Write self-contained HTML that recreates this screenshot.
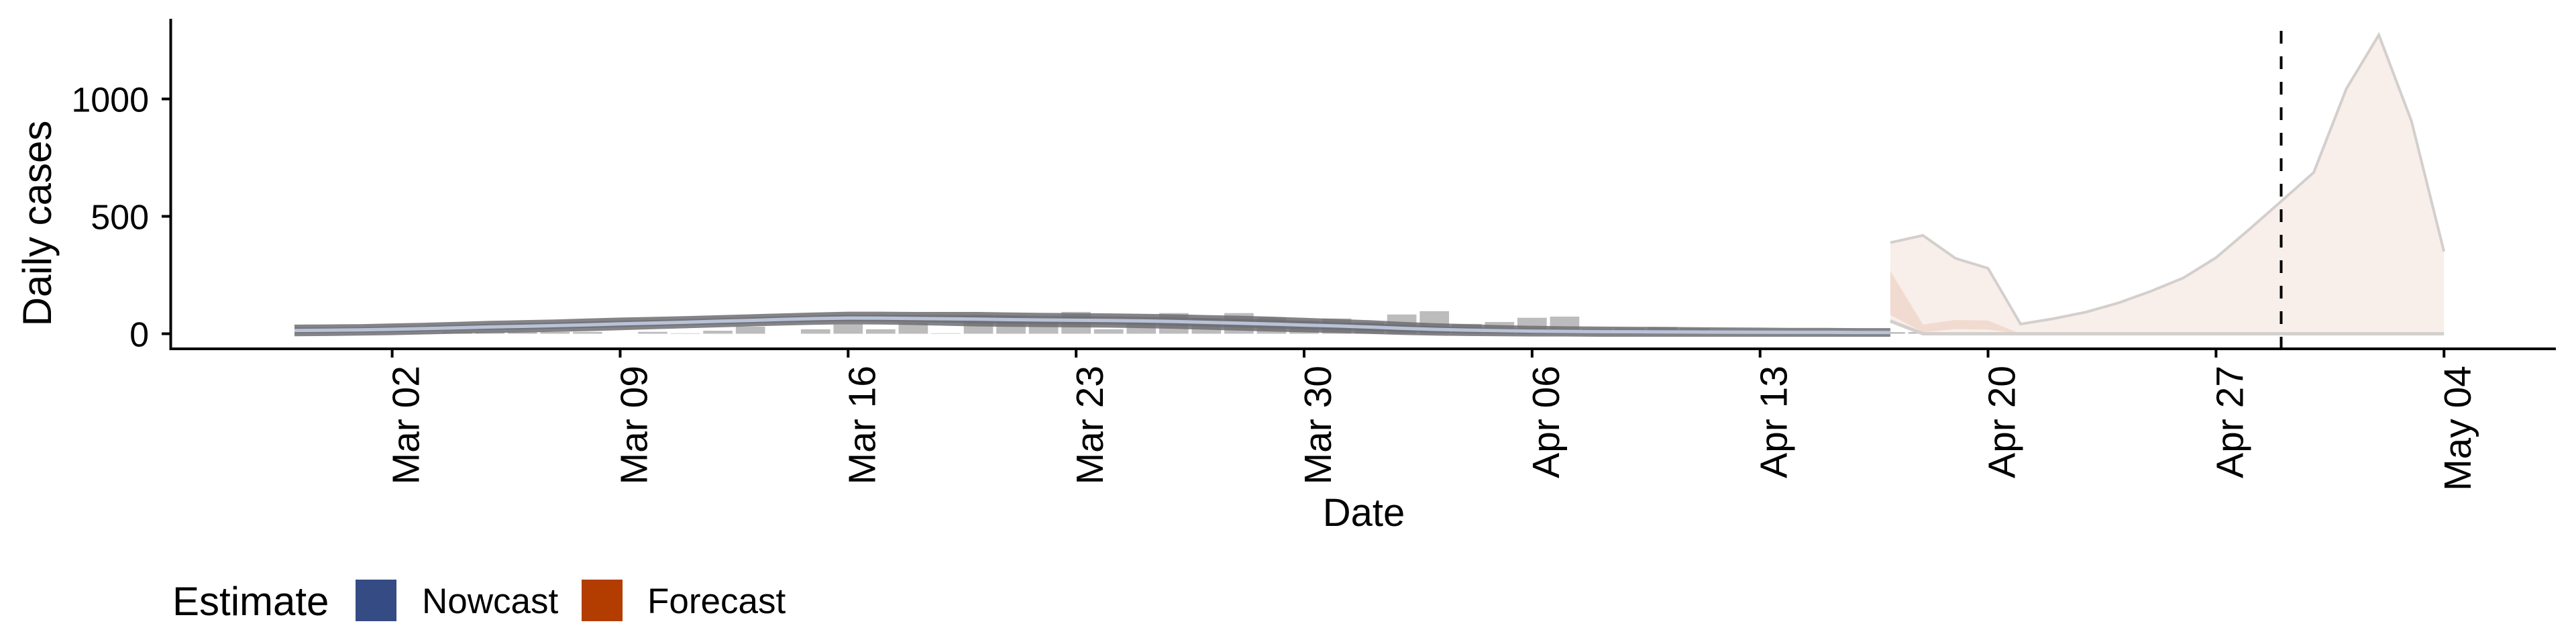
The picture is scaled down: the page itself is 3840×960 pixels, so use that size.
<!DOCTYPE html>
<html><head><meta charset="utf-8"><style>
html,body{margin:0;padding:0;background:#fff;}
svg{display:block;font-family:"Liberation Sans",Arial,sans-serif;}
</style></head><body>
<svg id="chart" width="3840" height="960" viewBox="0 0 3840 960" xmlns="http://www.w3.org/2000/svg">
<rect width="3840" height="960" fill="#fff"/>
<g id="plot"></g>
<text transform="translate(76,333) rotate(-90)" text-anchor="middle" font-size="60">Daily cases</text>
<text x="2033" y="784" text-anchor="middle" font-size="58">Date</text>
<g>
<text x="257" y="917" font-size="60">Estimate</text>
<rect x="530" y="864" width="61" height="62" fill="#344b84"/>
<text x="629" y="914" font-size="53">Nowcast</text>
<rect x="867" y="864" width="61" height="62" fill="#b33c00"/>
<text x="965" y="914" font-size="53">Forecast</text>
</g>
</svg>
<script>
// Day 0 = Mar 02
const reportedDays = [-3,-2,-1,0,1,2,3,4,5,6,7,8,9,10,11,12,13,14,15,16,17,18,19,20,21,22,23,24,25,26,27,28,29,30,31,32,33,34,35,36,37,38,39,40,41,42,43,44,45,46,47,48,49,50,51,52,53,54,55,56,57,58,59,60,61,62,63];
const reportedCases = [0,0,0,0,2,8,8,8,8,8,0,8,2,13,30,0,19,40,19,48,2,79,77,63,93,19,60,88,65,88,70,56,65,48,82,96,42,50,68,73,21,23,29,23,8,8,7,7,7,7,7,7,7,0,4,4,4,0,0,0,0,3,0,0,0,0,0];
const nowcastDays = [-3,-2,-1,0,1,2,3,4,5,6,7,8,9,10,11,12,13,14,15,16,17,18,19,20,21,22,23,24,25,26,27,28,29,30,31,32,33,34,35,36,37,38,39,40,41,42,43,44,45,46];
const nowcastUpper = [26,27,28,31,34,38,42,45,48,52,56,59,62,66,70,74,78,81,81,80,80,80,78,76,75,74,72,70,67,64,60,55,50,45,38,32,28,24,21,19,18,17,16,15,14,13,12,12,11,11];
const nowcastLower = [2,3,5,7,10,13,16,18,21,24,28,32,36,40,44,48,51,53,52,50,47,44,42,41,40,39,37,34,30,26,22,19,16,12,8,5,3,2,1,1,0,0,0,0,0,0,0,0,0,0];
const forecastDays = [46,47,48,49,50,51,52,53,54,55,56,57,58,59,60,61,62,63];
const forecastUpper = [388,419,321,279,41,64,92,131,181,238,324,442,564,687,1043,1273,906,350];
const forecastLower = [54,0,0,0,0,0,0,0,0,0,0,0,0,0,0,0,0,0];
const forecastInnerUpper = [268,39,59,56,0,0,0,0,0,0,0,0,0,0,0,0,0,0];
const forecastInnerLower = [80,6,20,18,0,0,0,0,0,0,0,0,0,0,0,0,0,0];
const yTicks = [0,500,1000];
const xTickDays = [0,7,14,21,28,35,42,49,56,63];
const xTickLabels = ["Mar 02","Mar 09","Mar 16","Mar 23","Mar 30","Apr 06","Apr 13","Apr 20","Apr 27","May 04"];
const forecastDateDay = 58;

const NS = "http://www.w3.org/2000/svg";
const plot = document.getElementById('plot');
const X0 = 584.6, DAY = 48.55, Y0 = 497.5, YS = 0.35;
function xs(d){ return X0 + d*DAY; }
function ys(v){ return Y0 - v*YS; }
function mk(tag, attrs){ const e = document.createElementNS(NS, tag); for (const k in attrs) e.setAttribute(k, attrs[k]); plot.appendChild(e); return e; }
function band(days, up, lo){
  let p = days.map((d,i)=>xs(d).toFixed(1)+','+ys(up[i]).toFixed(1));
  for (let i=days.length-1;i>=0;i--) p.push(xs(days[i]).toFixed(1)+','+ys(lo[i]).toFixed(1));
  return p.join(' ');
}
function line(days, vals){ return days.map((d,i)=>xs(d).toFixed(1)+','+ys(vals[i]).toFixed(1)).join(' '); }

reportedDays.forEach((d,i)=>{
  if (reportedCases[i] <= 0) return;
  const b = mk('rect', {x: xs(d)-DAY*0.45, y: ys(reportedCases[i]), width: DAY*0.9, height: reportedCases[i]*YS, fill:'#bcbcbc'});
  
  
});

const nb = mk('polygon', {points: band(nowcastDays, nowcastUpper, nowcastLower), fill:'rgba(95,95,100,0.7)'});


const nu = mk('polyline', {points: line(nowcastDays, nowcastUpper), fill:'none', stroke:'rgba(110,110,115,0.85)', 'stroke-width':9});


const nl = mk('polyline', {points: line(nowcastDays, nowcastLower), fill:'none', stroke:'rgba(110,110,115,0.85)', 'stroke-width':9});


const med = nowcastDays.map((d,i)=>(nowcastUpper[i]+nowcastLower[i])/2);
const nm = mk('polyline', {points: line(nowcastDays, med), fill:'none', stroke:'#b8c3d9', 'stroke-width':5});



const fb = mk('polygon', {points: band(forecastDays, forecastUpper, forecastLower), fill:'rgba(230,195,178,0.28)'});


const fi = mk('polygon', {points: band(forecastDays, forecastInnerUpper, forecastInnerLower), fill:'rgba(225,175,150,0.3)'});


const fu = mk('polyline', {points: line(forecastDays, forecastUpper), fill:'none', stroke:'#d3cfcd', 'stroke-width':4});


const fl = mk('polyline', {points: line(forecastDays, forecastLower), fill:'none', stroke:'#d3cfcd', 'stroke-width':5});



const vl = mk('line', {x1: xs(forecastDateDay), x2: xs(forecastDateDay), y1: 46, y2: 520, stroke:'#000', 'stroke-width':4, 'stroke-dasharray':'19 19'});



const ya = mk('line', {x1:254.5, x2:254.5, y1:28, y2:522, stroke:'#000', 'stroke-width':4});


const xa = mk('line', {x1:252.5, x2:3810, y1:520, y2:520, stroke:'#000', 'stroke-width':4});


yTicks.forEach(v=>{
  const t = mk('line', {x1:241, x2:254, y1:ys(v), y2:ys(v), stroke:'#000', 'stroke-width':4});
  
  
  const l = mk('text', {x:222, y:ys(v)+19, 'text-anchor':'end', 'font-size':52});
  l.textContent = v;
  
  
});
xTickDays.forEach((d,i)=>{
  const t = mk('line', {x1:xs(d), x2:xs(d), y1:520, y2:533, stroke:'#000', 'stroke-width':4});
  
  
  const l = mk('text', {transform:'translate('+(xs(d)+40).toFixed(1)+',545) rotate(-90)', 'text-anchor':'end', 'font-size':57});
  l.textContent = xTickLabels[i];
  
  
});
</script>
</body></html>
